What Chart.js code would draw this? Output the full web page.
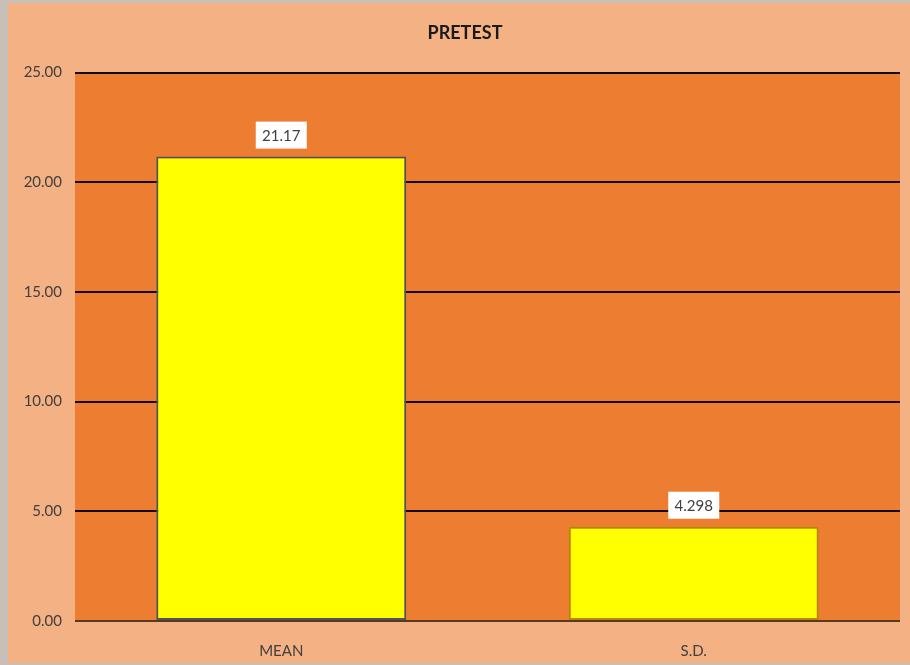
<!DOCTYPE html>
<html>
<head>
<meta charset="utf-8">
<script src="https://cdn.jsdelivr.net/npm/chart.js@4"></script>
<style>
    html, body { margin: 0; padding: 0; background: #c8c0b8; }
    #wrap { width: 910px; height: 665px; position: relative; }
</style>
</head>
<body>
<div id="wrap"><canvas id="pretest"></canvas></div>
<script>
// Pretest statistics
const CATEGORIES = ['MEAN', 'S.D.'];
const VALUES     = [21.17, 4.298];
const LABELS     = ['21.17', '4.298'];

// Colors
const PEACH  = '#F4B183';
const ORANGE = '#ED7D31';
const YELLOW = '#FFFF00';
const BORDERS = ['#4F5560', '#B8860B'];
const TEXT   = '#404040';

const FONT = "Lato, 'Open Sans', sans-serif";

// peach page + orange plot area
const backdrop = {
    id: 'backdrop',
    beforeDraw(chart) {
        const { ctx, chartArea: a } = chart;
        ctx.save();
        ctx.fillStyle = '#c8c0b8';
        ctx.fillRect(0, 0, chart.width, chart.height);
        ctx.fillStyle = PEACH;
        ctx.fillRect(8, 3, chart.width - 8, chart.height - 5);
        ctx.fillStyle = ORANGE;
        ctx.fillRect(a.left, a.top, a.right - a.left, a.bottom - a.top);
        ctx.restore();
    }
};

// nudge the title a little right of the page centre
const titleShift = {
    id: 'titleShift',
    afterLayout(chart) {
        const t = chart.titleBlock;
        if (t) { t.left += 11; t.right += 11; }
    }
};

// white value boxes above each bar
const valueBoxes = {
    id: 'valueBoxes',
    afterDatasetsDraw(chart) {
        const { ctx } = chart;
        const meta = chart.getDatasetMeta(0);
        ctx.save();
        ctx.font = '15px ' + FONT;
        ctx.textAlign = 'center';
        ctx.textBaseline = 'middle';
        meta.data.forEach((bar, i) => {
            const w = 51, h = 27;
            const bottom = bar.y - 8;
            ctx.fillStyle = '#FFFFFF';
            ctx.fillRect(bar.x - w / 2, bottom - h, w, h);
            ctx.fillStyle = TEXT;
            ctx.fillText(LABELS[i], bar.x, bottom - h / 2 + 1);
        });
        ctx.restore();
    }
};

window.onload = () => {
    new Chart(document.getElementById('pretest'), {
        type: 'bar',
        data: {
            labels: CATEGORIES,
            datasets: [{
                data: VALUES,
                backgroundColor: YELLOW,
                borderColor: BORDERS,
                borderWidth: 2,
                borderSkipped: false,
                barPercentage: 0.606,
                categoryPercentage: 1
            }]
        },
        options: {
            responsive: true,
            maintainAspectRatio: false,
            animation: false,
            layout: { padding: { left: 8, right: 10, top: 9, bottom: 0 } },
            plugins: {
                legend: { display: false },
                tooltip: { enabled: false },
                title: {
                    display: true,
                    text: 'PRETEST',
                    color: '#1a1a1a',
                    font: { family: FONT, size: 18, weight: 'bold' },
                    padding: { top: 13, bottom: 29 }
                }
            },
            scales: {
                x: {
                    grid: { display: false },
                    border: { display: false },
                    ticks: {
                        color: TEXT,
                        font: { family: FONT, size: 15 },
                        padding: 13
                    },
                    afterFit: scale => { scale.height = 44; }
                },
                y: {
                    min: 0,
                    max: 25,
                    border: { display: false },
                    grid: {
                        color: ctx => ctx.tick.value === 0 ? '#5a3a1e' : '#140b05',
                        lineWidth: 2,
                        drawTicks: false
                    },
                    ticks: {
                        stepSize: 5,
                        color: TEXT,
                        font: { family: FONT, size: 15 },
                        padding: 13,
                        callback: v => v.toFixed(2)
                    },
                    afterFit: scale => { scale.width = 67; }
                }
            }
        },
        plugins: [backdrop, titleShift, valueBoxes]
    });
};
</script>
</body>
</html>
